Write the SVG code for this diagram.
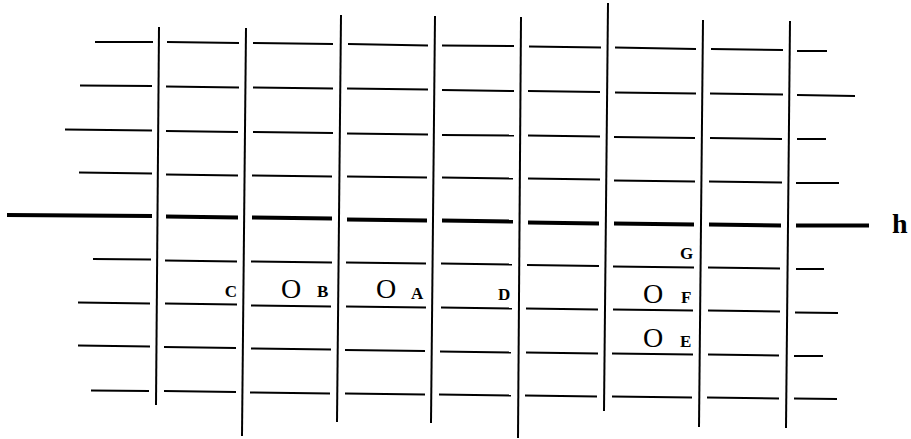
<svg xmlns="http://www.w3.org/2000/svg" width="911" height="439" viewBox="0 0 911 439">
<style>
.v{stroke:#000;stroke-width:2;fill:none}
.r{stroke:#000;stroke-width:2;fill:none}
.h{stroke:#000;stroke-width:4;fill:none}
.lbl{font-family:"Liberation Serif",serif;font-weight:bold;font-size:17px;fill:#000}
.o{font-family:"Liberation Serif",serif;font-size:28px;fill:#000}
.hl{font-family:"Liberation Serif",serif;font-weight:bold;font-size:28px;fill:#000}
</style>
<rect width="911" height="439" fill="#fff"/>
<g id="verticals" class="v">
<line x1="159" y1="27" x2="156" y2="405"/>
<line x1="246" y1="28" x2="242" y2="436"/>
<line x1="341" y1="15" x2="337" y2="422"/>
<line x1="435" y1="16" x2="431" y2="423"/>
<line x1="521" y1="17" x2="518" y2="438"/>
<line x1="608" y1="3" x2="604" y2="411"/>
<line x1="703" y1="20" x2="699" y2="427"/>
<line x1="790" y1="21" x2="786" y2="428"/>
</g>
<g id="row1" class="r">
<line x1="95" y1="42" x2="153" y2="42"/>
<line x1="167" y1="42" x2="239" y2="43"/>
<line x1="253" y1="43" x2="333" y2="44"/>
<line x1="348" y1="44" x2="428" y2="45.5"/>
<line x1="442" y1="45.5" x2="514" y2="46"/>
<line x1="529" y1="46.5" x2="601" y2="47.5"/>
<line x1="615" y1="47.5" x2="696" y2="49"/>
<line x1="711" y1="49" x2="783" y2="50"/>
<line x1="797" y1="51" x2="827" y2="51"/>
</g>
<g id="row2" class="r">
<line x1="80" y1="85.5" x2="152" y2="86"/>
<line x1="166" y1="86.5" x2="239" y2="87.5"/>
<line x1="253" y1="87.5" x2="333" y2="88.5"/>
<line x1="347" y1="88.5" x2="428" y2="89.5"/>
<line x1="442" y1="90" x2="514" y2="91"/>
<line x1="528" y1="91" x2="600" y2="92"/>
<line x1="615" y1="92.5" x2="696" y2="93.5"/>
<line x1="710" y1="93.5" x2="783" y2="94.5"/>
<line x1="797" y1="95" x2="855" y2="96"/>
</g>
<g id="row3" class="r">
<line x1="65" y1="129.5" x2="152" y2="130.5"/>
<line x1="166" y1="131" x2="238" y2="132"/>
<line x1="253" y1="132" x2="333" y2="133"/>
<line x1="347" y1="133.5" x2="428" y2="134.5"/>
<line x1="442" y1="135" x2="514" y2="135.5"/>
<line x1="528" y1="135.5" x2="600" y2="136.5"/>
<line x1="614" y1="137" x2="695" y2="138"/>
<line x1="710" y1="138" x2="782" y2="139"/>
<line x1="797" y1="139" x2="826" y2="139"/>
</g>
<g id="row4" class="r">
<line x1="79" y1="172.5" x2="152" y2="173.5"/>
<line x1="166" y1="174.5" x2="238" y2="175.5"/>
<line x1="252" y1="175.5" x2="332" y2="176.5"/>
<line x1="347" y1="176.5" x2="427" y2="177.5"/>
<line x1="442" y1="177.5" x2="513" y2="178.5"/>
<line x1="528" y1="178.5" x2="600" y2="179.5"/>
<line x1="614" y1="180.5" x2="695" y2="181.5"/>
<line x1="709" y1="181.5" x2="782" y2="182.5"/>
<line x1="796" y1="183" x2="839" y2="183"/>
</g>
<g id="row-h" class="h">
<line x1="7" y1="215" x2="152" y2="216"/>
<line x1="166" y1="216.5" x2="238" y2="217.5"/>
<line x1="252" y1="217.5" x2="332" y2="218.5"/>
<line x1="347" y1="219.5" x2="427" y2="220.5"/>
<line x1="442" y1="220.5" x2="513" y2="221.5"/>
<line x1="528" y1="222.5" x2="599" y2="223.5"/>
<line x1="614" y1="223.5" x2="694" y2="224.5"/>
<line x1="709" y1="224.5" x2="781" y2="225.5"/>
<line x1="796" y1="225.5" x2="869" y2="225.5"/>
</g>
<g id="row6" class="r">
<line x1="93" y1="259" x2="151" y2="259.5"/>
<line x1="165" y1="260.5" x2="237" y2="261.5"/>
<line x1="251" y1="261.5" x2="332" y2="262.5"/>
<line x1="346" y1="262.5" x2="426" y2="263.5"/>
<line x1="441" y1="263.5" x2="512" y2="264.5"/>
<line x1="527" y1="265" x2="599" y2="266"/>
<line x1="613" y1="266.5" x2="694" y2="267.5"/>
<line x1="708" y1="267.5" x2="780" y2="268.5"/>
<line x1="796" y1="269" x2="824" y2="269"/>
</g>
<g id="row7" class="r">
<line x1="78" y1="302.5" x2="150" y2="303.5"/>
<line x1="165" y1="303.5" x2="237" y2="304.5"/>
<line x1="251" y1="305.5" x2="331" y2="306.5"/>
<line x1="346" y1="306.5" x2="426" y2="307.5"/>
<line x1="441" y1="307.5" x2="512" y2="308.5"/>
<line x1="526" y1="308.5" x2="598" y2="309.5"/>
<line x1="613" y1="309.5" x2="693" y2="310.5"/>
<line x1="708" y1="310.5" x2="780" y2="311.5"/>
<line x1="795" y1="312.5" x2="838" y2="313"/>
</g>
<g id="row8" class="r">
<line x1="78" y1="345.5" x2="150" y2="346.5"/>
<line x1="164" y1="347" x2="236" y2="348"/>
<line x1="251" y1="348.5" x2="331" y2="349.5"/>
<line x1="345" y1="350" x2="425" y2="351"/>
<line x1="440" y1="351.5" x2="511" y2="352.5"/>
<line x1="526" y1="352.5" x2="598" y2="353.5"/>
<line x1="612" y1="353.5" x2="693" y2="354.5"/>
<line x1="708" y1="354.5" x2="779" y2="355.5"/>
<line x1="794" y1="356" x2="823" y2="356"/>
</g>
<g id="row9" class="r">
<line x1="91" y1="390.5" x2="149" y2="391"/>
<line x1="164" y1="391" x2="236" y2="392"/>
<line x1="250" y1="392.5" x2="330" y2="393.5"/>
<line x1="345" y1="393.5" x2="425" y2="394.5"/>
<line x1="439" y1="394.5" x2="511" y2="395.5"/>
<line x1="525" y1="395.5" x2="597" y2="396.5"/>
<line x1="612" y1="396.5" x2="692" y2="397.5"/>
<line x1="707" y1="397.5" x2="779" y2="398.5"/>
<line x1="794" y1="398.5" x2="837" y2="399"/>
</g>
<g id="label-h"><text class="hl" x="892" y="233">h</text></g>
<g id="label-C"><text class="lbl" x="237" y="297" text-anchor="end">C</text></g>
<g id="label-B"><text class="o" x="281" y="298">O</text><text class="lbl" x="317" y="297">B</text></g>
<g id="label-A"><text class="o" x="376" y="298">O</text><text class="lbl" x="411" y="299">A</text></g>
<g id="label-D"><text class="lbl" x="498" y="300">D</text></g>
<g id="label-G"><text class="lbl" x="680" y="259">G</text></g>
<g id="label-F"><text class="o" x="643" y="303">O</text><text class="lbl" x="681" y="303">F</text></g>
<g id="label-E"><text class="o" x="643" y="347">O</text><text class="lbl" x="680" y="347">E</text></g>
</svg>
